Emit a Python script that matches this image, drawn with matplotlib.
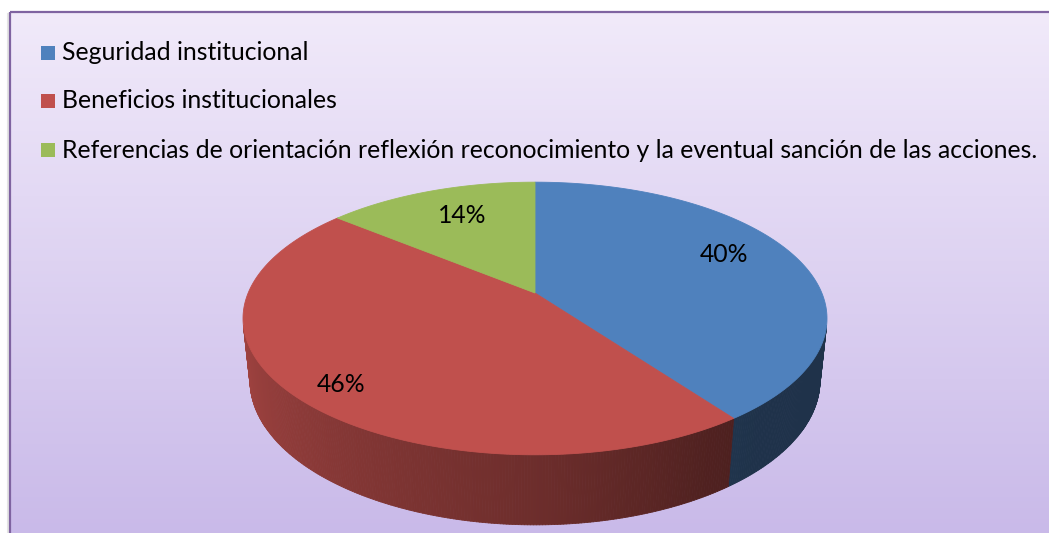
import numpy as np
import matplotlib
matplotlib.use("Agg")
import matplotlib.pyplot as plt
from matplotlib.patches import Rectangle, Polygon
from matplotlib.collections import PolyCollection
from matplotlib.colors import to_rgb

# ---- data ----
categories = [
    "Seguridad institucional",
    "Beneficios institucionales",
    "Referencias de orientación reflexión reconocimiento y la eventual sanción de las acciones.",
]
shares = [40, 46, 14]
pct_labels = ["40%", "46%", "14%"]
colors = ["#4F81BD", "#C0504D", "#9BBB59"]

# ---- layout ----
W, H = 1049, 533
FONT = ["Lato", "DejaVu Sans"]
label_r = [0.72, 0.83, 0.66]
label_dy = [-10, 8, -7]

fig = plt.figure(figsize=(W / 100, H / 100), dpi=100)
fig.patch.set_facecolor("white")
ax = fig.add_axes([0, 0, 1, 1])

# chart area background: vertical lavender gradient inside a purple frame
grad = np.linspace(0, 1, 256)[:, None, None]
c_top = np.array([241, 234, 250]) / 255
c_bot = np.array([199, 183, 232]) / 255
img = c_top + (c_bot - c_top) * grad
ax.imshow(img, extent=[10, W + 30, H + 30, 12], aspect="auto",
          interpolation="bilinear", zorder=0)
ax.plot([8, 8], [14, H], color="#E4E4E4", lw=1.5, zorder=0.5)
ax.add_patch(Rectangle((10, 12), W + 60, H + 60, fill=False,
                       edgecolor="#7F63A1", lw=1.6, zorder=1))

# ---- 3D pie projection (pinhole camera looking down at a flat cylinder) ----
CX, CY = 535, 293
F = 1364.0
DIST = 4.755
TILT = np.radians(27.3)
cth, sth = np.cos(TILT), np.sin(TILT)
THICK = 0.245


def project(t, r=1.0, z=0.0):
    x = r * np.cos(t)
    y = r * np.sin(t)
    depth = DIST + y * cth - z * sth
    return CX + F * x / depth, CY - F * (y * sth + z * cth) / depth


fracs = np.asarray(shares, float) / sum(shares)
bounds = np.radians(90 - 360 * np.concatenate([[0], np.cumsum(fracs)]))

# outer wall is visible where its normal faces the camera
lim = np.arcsin(1.0 / (DIST * cth))
vis_lo, vis_hi = np.pi + lim, 2 * np.pi - lim


def shade(t):
    deg = np.degrees(t) % 360
    return np.interp(deg, [190, 270, 300, 312, 350], [0.85, 0.57, 0.42, 0.39, 0.39])


for i, col in enumerate(colors):
    lo, hi = bounds[i + 1], bounds[i]
    base = np.array(to_rgb(col))
    for k in (-1, 0):
        a = max(lo, vis_lo + 2 * np.pi * k)
        b = min(hi, vis_hi + 2 * np.pi * k)
        if b <= a:
            continue
        ts = np.linspace(a, b, max(int(np.degrees(b - a) * 2), 4))
        xt, yt = project(ts, 1.0, 0.0)
        xb, yb = project(ts, 1.0, -THICK)
        quads, fcs = [], []
        for j in range(len(ts) - 1):
            quads.append([(xt[j], yt[j]), (xt[j + 1], yt[j + 1]),
                          (xb[j + 1], yb[j + 1]), (xb[j], yb[j])])
            fcs.append(np.clip(base * shade(0.5 * (ts[j] + ts[j + 1])), 0, 1))
        ax.add_collection(PolyCollection(quads, facecolors=fcs, edgecolors=fcs,
                                         linewidths=0.6, zorder=2))

# top faces
for i, col in enumerate(colors):
    ts = np.linspace(bounds[i], bounds[i + 1], 200)
    xs, ys = project(ts)
    x0, y0 = project(0.0, 0.0)
    pts = np.column_stack([np.r_[x0, xs], np.r_[y0, ys]])
    ax.add_patch(Polygon(pts, closed=True, facecolor=col, edgecolor=col,
                         lw=0.6, zorder=3))

# percentage labels
texts = []
for i, lab in enumerate(pct_labels):
    mid = 0.5 * (bounds[i] + bounds[i + 1])
    lx, ly = project(mid, label_r[i])
    texts.append(ax.text(lx, ly + label_dy[i], lab, ha="center", va="center",
                         family=FONT, fontsize=18, color="black", zorder=5))

# legend
rows = [53, 101, 150]
legend_texts = []
for col, name, y in zip(colors, categories, rows):
    ax.add_patch(Rectangle((41, y - 7), 14, 14, facecolor=col, edgecolor="none",
                           zorder=5))
    legend_texts.append(ax.text(62, y, name, ha="left", va="center",
                                family=FONT, fontsize=18, color="black", zorder=5))

ax.set_xlim(0, W)
ax.set_ylim(H, 0)
ax.axis("off")

# size the text so the longest legend entry spans the chart width
fig.canvas.draw()
rend = fig.canvas.get_renderer()
wid = legend_texts[-1].get_window_extent(rend).width
fs = 18 * 973.0 / wid
for t in texts + legend_texts:
    t.set_fontsize(fs)

fig.savefig("out.png", dpi=100, facecolor="white")
